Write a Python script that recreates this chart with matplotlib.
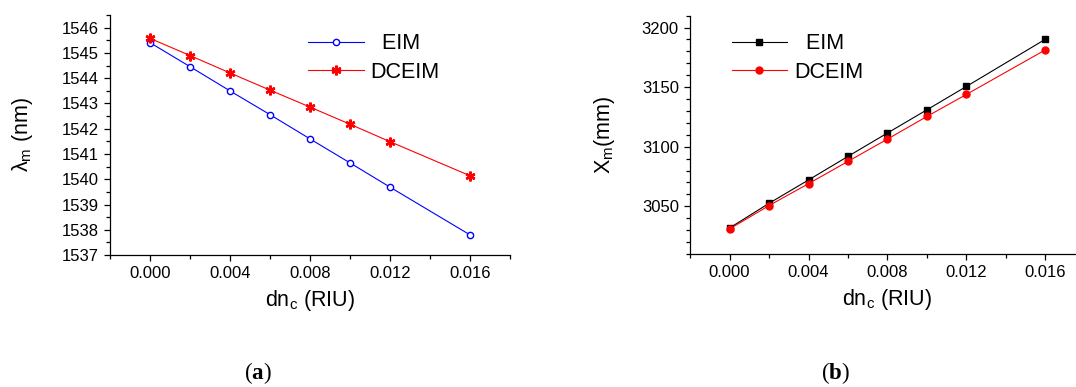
import matplotlib
matplotlib.use('Agg')
import matplotlib.pyplot as plt
from matplotlib.ticker import MultipleLocator, FormatStrFormatter

plt.rcParams['font.family'] = ['Liberation Sans', 'DejaVu Sans']
plt.rcParams['mathtext.fontset'] = 'custom'
plt.rcParams['mathtext.rm'] = 'Liberation Sans'
plt.rcParams['mathtext.it'] = 'Liberation Sans:italic'
plt.rcParams['mathtext.bf'] = 'Liberation Serif:bold'
plt.rcParams['mathtext.default'] = 'regular'

# data
dnc = [0.000, 0.002, 0.004, 0.006, 0.008, 0.010, 0.012, 0.016]
lam_eim = [1545.41, 1544.46, 1543.50, 1542.56, 1541.60, 1540.65, 1539.69, 1537.80]
lam_dceim = [1545.58, 1544.90, 1544.21, 1543.53, 1542.86, 1542.18, 1541.49, 1540.14]
xm_eim = [3031.8, 3052.5, 3072.1, 3091.9, 3111.5, 3131.0, 3150.6, 3190.2]
xm_dceim = [3031.0, 3050.6, 3069.0, 3087.7, 3106.4, 3125.4, 3143.9, 3181.3]

fig = plt.figure(figsize=(10.76, 3.87), dpi=100)
ax1 = fig.add_axes([0.1022, 0.341, 0.3717, 0.620])
ax2 = fig.add_axes([0.6413, 0.3437, 0.367, 0.616])

LW = 0.8
TICK_FS = 12
LAB_FS = 15.5

# (a) resonance wavelength
ax1.plot(dnc, lam_eim, color='#0000ff', lw=LW, marker='o', ms=4.5,
         mfc='white', mec='#0000ff', mew=1.0, label='  EIM')
ax1.plot(dnc, lam_dceim, color='#ff0000', lw=LW, marker=(6, 2, 0), ms=7,
         mec='#ff0000', mew=1.8, label='DCEIM')
ax1.set_xlim(-0.002, 0.018)
ax1.set_ylim(1537, 1546.5)
ax1.yaxis.set_major_locator(MultipleLocator(1))
ax1.yaxis.set_minor_locator(MultipleLocator(0.5))
ax1.set_ylabel(r'$λ_m$ (nm)', fontsize=LAB_FS, labelpad=19)

# (b) position
ax2.plot(dnc, xm_eim, color='black', lw=LW, marker='s', ms=4.4,
         mfc='black', mec='black', label='  EIM')
ax2.plot(dnc, xm_dceim, color='#ff0000', lw=LW, marker='o', ms=5,
         mfc='#ff0000', mec='#ff0000', label='DCEIM')
ax2.set_xlim(-0.002, 0.018)
ax2.set_ylim(3010, 3210)
ax2.yaxis.set_major_locator(MultipleLocator(50))
ax2.yaxis.set_minor_locator(MultipleLocator(10))
ax2.set_ylabel(r'$X_m$(mm)', fontsize=LAB_FS, labelpad=18)

for ax in (ax1, ax2):
    ax.spines['top'].set_visible(False)
    ax.spines['right'].set_visible(False)
    ax.spines['left'].set_linewidth(0.9)
    ax.spines['bottom'].set_linewidth(0.9)
    ax.xaxis.set_major_locator(MultipleLocator(0.004))
    ax.xaxis.set_minor_locator(MultipleLocator(0.002))
    ax.xaxis.set_major_formatter(FormatStrFormatter('%.3f'))
    ax.tick_params(which='major', direction='out', length=4, width=0.9,
                   labelsize=TICK_FS, pad=4)
    ax.tick_params(which='minor', direction='out', length=3, width=0.9)
    ax.set_xlabel(r'$dn_c$ (RIU)', fontsize=LAB_FS, labelpad=5)
    ax.legend(loc='upper left', frameon=False, fontsize=LAB_FS,
              handlelength=2.6, handletextpad=0.3, labelspacing=0.35,
              borderpad=0, borderaxespad=0)

ax1.get_legend().set_bbox_to_anchor((0.495, 0.925), transform=ax1.transAxes)
ax2.get_legend().set_bbox_to_anchor((0.105, 0.925), transform=ax2.transAxes)

# panel captions
fig.text(258 / 1076, 1 - 373 / 387, r'($\mathbf{a}$)', fontsize=16.5,
         family='Liberation Serif', ha='center', va='center')
fig.text(835 / 1076, 1 - 373 / 387, r'($\mathbf{b}$)', fontsize=16.5,
         family='Liberation Serif', ha='center', va='center')

fig.savefig('out.png', dpi=100)
plt.close(fig)
